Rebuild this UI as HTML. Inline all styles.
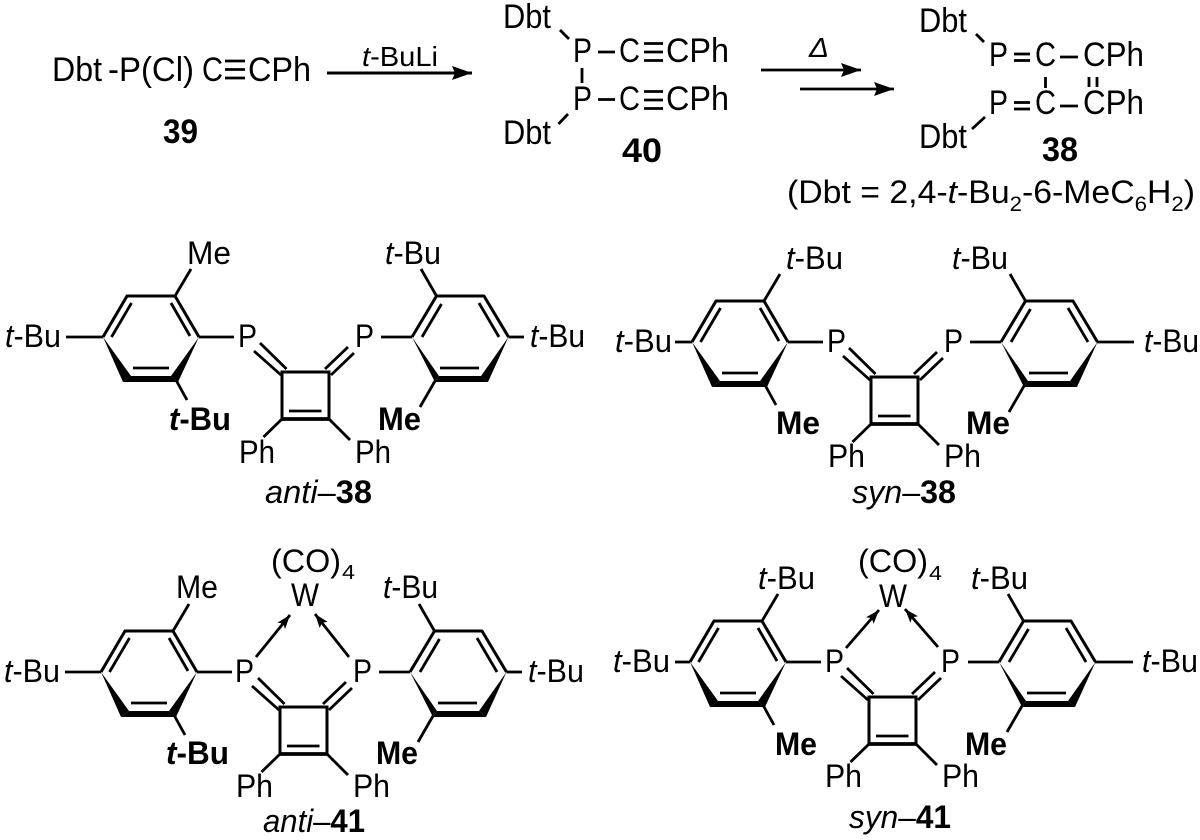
<!DOCTYPE html>
<html><head><meta charset="utf-8"><style>
html,body{margin:0;padding:0;background:#fff;width:1200px;height:840px;overflow:hidden}
svg{display:block}
text{font-family:"Liberation Sans",sans-serif;font-size:32px;fill:#000}
.b{font-weight:bold}
.i{font-style:italic}
line{stroke:#000;stroke-width:2.8;fill:none}
</style></head><body>
<svg width="1200" height="840" viewBox="0 0 1200 840" xmlns="http://www.w3.org/2000/svg">
<defs>
<marker id="big" markerUnits="userSpaceOnUse" markerWidth="24" markerHeight="16" refX="20" refY="7" orient="auto"><path d="M0,0L20,7L0,14L3,7z" fill="#000"/></marker>
<marker id="sm" markerUnits="userSpaceOnUse" markerWidth="16" markerHeight="12" refX="14" refY="5" orient="auto"><path d="M0,0L14,5L0,10L3,5z" fill="#000"/></marker>
<g id="core">
<path d="M103,337L127,296H175L199,337M412,337L436.5,296H484L508.5,337" fill="none" stroke="#000" stroke-width="3" stroke-linejoin="round"/>
<line x1="111.5" y1="337" x2="131.5" y2="303"/><line x1="171" y1="303" x2="190" y2="336"/>
<line x1="133" y1="368" x2="169" y2="368"/>
<line x1="422" y1="337" x2="441.5" y2="304"/><line x1="479" y1="303" x2="499" y2="337"/>
<line x1="440" y1="368" x2="479" y2="368"/>
<polygon points="103,337 123,382 131,376"/><polygon points="199,337 171,376 178,382"/><polygon points="123,382 131,376 171,376 178,382"/>
<polygon points="412,337 435,382 439,376"/><polygon points="508.5,337 481,376 488,382"/><polygon points="435,382 439,376 481,376 488,382"/>
<line x1="175" y1="296" x2="191" y2="269"/><line x1="176" y1="380" x2="187" y2="400"/>
<line x1="436.5" y1="296" x2="421" y2="269"/><line x1="435" y1="381" x2="420" y2="407"/>
<line x1="199" y1="337" x2="234" y2="337"/><line x1="381" y1="337" x2="412" y2="337"/>
<line x1="260" y1="343" x2="286.5" y2="369"/><line x1="254" y1="351" x2="281" y2="375"/>
<line x1="348" y1="347" x2="325" y2="369"/><line x1="354" y1="353" x2="331" y2="375"/>
<path d="M282,419V372H329V419" fill="none" stroke="#000" stroke-width="3"/>
<line x1="280.5" y1="419" x2="330.5" y2="419" style="stroke-width:3.8"/>
<line x1="289" y1="411" x2="321.5" y2="411"/>
<line x1="282" y1="419" x2="263.5" y2="437"/><line x1="329" y1="419" x2="350" y2="440"/>
</g>
</defs>

<!-- top scheme: 39 -->
<text x="52" y="81" style="font-size:34px" textLength="50" lengthAdjust="spacingAndGlyphs">Dbt</text>
<text x="108" y="81" style="font-size:34px" textLength="86" lengthAdjust="spacingAndGlyphs">-P(Cl)</text>
<text x="202" y="81" style="font-size:34px" textLength="21" lengthAdjust="spacingAndGlyphs">C</text>
<line x1="225" y1="61" x2="245" y2="61"/><line x1="225" y1="69.5" x2="245" y2="69.5"/><line x1="225" y1="78" x2="245" y2="78"/>
<text x="248" y="81" style="font-size:34px" textLength="63" lengthAdjust="spacingAndGlyphs">CPh</text>
<text x="163" y="143" class="b" style="font-size:34px" textLength="35" lengthAdjust="spacingAndGlyphs">39</text>
<line x1="327" y1="73" x2="472" y2="73" marker-end="url(#big)" style="stroke-width:3"/>
<text x="362" y="66" style="font-size:28px" textLength="76" lengthAdjust="spacingAndGlyphs"><tspan class="i">t</tspan>-BuLi</text>

<!-- 40 -->
<text x="503" y="28" style="font-size:34px" textLength="48" lengthAdjust="spacingAndGlyphs">Dbt</text>
<line x1="560" y1="30" x2="569" y2="39"/>
<text x="573" y="62" style="font-size:34px" textLength="19" lengthAdjust="spacingAndGlyphs">P</text>
<line x1="598" y1="52" x2="615" y2="52"/>
<text x="619" y="62" style="font-size:34px" textLength="21" lengthAdjust="spacingAndGlyphs">C</text>
<line x1="644" y1="43.5" x2="663" y2="43.5"/><line x1="644" y1="52" x2="663" y2="52"/><line x1="644" y1="60.5" x2="663" y2="60.5"/>
<text x="666" y="62" style="font-size:34px" textLength="63" lengthAdjust="spacingAndGlyphs">CPh</text>
<line x1="582" y1="68" x2="582" y2="83"/>
<text x="573" y="110" style="font-size:34px" textLength="19" lengthAdjust="spacingAndGlyphs">P</text>
<line x1="598" y1="99.5" x2="615" y2="99.5"/>
<text x="619" y="110" style="font-size:34px" textLength="21" lengthAdjust="spacingAndGlyphs">C</text>
<line x1="644" y1="91.5" x2="663" y2="91.5"/><line x1="644" y1="100" x2="663" y2="100"/><line x1="644" y1="108.5" x2="663" y2="108.5"/>
<text x="666" y="110" style="font-size:34px" textLength="63" lengthAdjust="spacingAndGlyphs">CPh</text>
<line x1="568" y1="114" x2="558.5" y2="124"/>
<text x="503" y="144" style="font-size:34px" textLength="48" lengthAdjust="spacingAndGlyphs">Dbt</text>
<text x="622" y="162" class="b" style="font-size:34px" textLength="40" lengthAdjust="spacingAndGlyphs">40</text>

<!-- delta arrows -->
<line x1="761" y1="70" x2="861" y2="70" marker-end="url(#big)" style="stroke-width:2.8"/>
<line x1="800" y1="89" x2="894" y2="89" marker-end="url(#big)" style="stroke-width:2.8"/>
<text x="809" y="57" class="i" style="font-size:28px" textLength="20" lengthAdjust="spacingAndGlyphs">Δ</text>

<!-- 38 top -->
<text x="919" y="32" style="font-size:34px" textLength="48" lengthAdjust="spacingAndGlyphs">Dbt</text>
<line x1="976" y1="34" x2="984" y2="42"/>
<text x="989" y="66" style="font-size:34px" textLength="19" lengthAdjust="spacingAndGlyphs">P</text>
<line x1="1014" y1="54" x2="1030" y2="54"/><line x1="1014" y1="60.5" x2="1030" y2="60.5"/>
<text x="1035" y="66" style="font-size:34px" textLength="21" lengthAdjust="spacingAndGlyphs">C</text>
<line x1="1060" y1="57" x2="1078" y2="57"/>
<text x="1083" y="66" style="font-size:34px" textLength="61" lengthAdjust="spacingAndGlyphs">CPh</text>
<line x1="1045.5" y1="77" x2="1045.5" y2="88"/>
<line x1="1089" y1="77" x2="1089" y2="87"/><line x1="1097" y1="77" x2="1097" y2="87"/>
<text x="989" y="114" style="font-size:34px" textLength="19" lengthAdjust="spacingAndGlyphs">P</text>
<line x1="1014" y1="102.5" x2="1030" y2="102.5"/><line x1="1014" y1="109" x2="1030" y2="109"/>
<text x="1035" y="114" style="font-size:34px" textLength="21" lengthAdjust="spacingAndGlyphs">C</text>
<line x1="1060" y1="106" x2="1078" y2="106"/>
<text x="1083" y="114" style="font-size:34px" textLength="61" lengthAdjust="spacingAndGlyphs">CPh</text>
<line x1="972" y1="129" x2="985" y2="117"/>
<text x="919" y="148" style="font-size:34px" textLength="48" lengthAdjust="spacingAndGlyphs">Dbt</text>
<text x="1042" y="161" class="b" style="font-size:34px" textLength="36" lengthAdjust="spacingAndGlyphs">38</text>
<text x="787" y="203" style="font-size:32px" textLength="408" lengthAdjust="spacingAndGlyphs">(Dbt = 2,4-<tspan class="i">t</tspan>-Bu<tspan dy="8" style="font-size:21px">2</tspan><tspan dy="-8">-6-MeC</tspan><tspan dy="8" style="font-size:21px">6</tspan><tspan dy="-8">H</tspan><tspan dy="8" style="font-size:21px">2</tspan><tspan dy="-8">)</tspan></text>

<!-- anti-38 -->
<use href="#core"/>
<line x1="66" y1="337" x2="103" y2="337"/><line x1="508.5" y1="337" x2="524" y2="337"/>
<text x="187" y="264" textLength="44" lengthAdjust="spacingAndGlyphs">Me</text>
<text x="5" y="347" textLength="56" lengthAdjust="spacingAndGlyphs"><tspan class="i">t</tspan>-Bu</text>
<text x="238" y="347" textLength="19" lengthAdjust="spacingAndGlyphs">P</text>
<text x="355" y="347" textLength="19" lengthAdjust="spacingAndGlyphs">P</text>
<text x="385" y="264" textLength="56" lengthAdjust="spacingAndGlyphs"><tspan class="i">t</tspan>-Bu</text>
<text x="530" y="347" textLength="55" lengthAdjust="spacingAndGlyphs"><tspan class="i">t</tspan>-Bu</text>
<text x="169" y="430" class="b" textLength="62" lengthAdjust="spacingAndGlyphs"><tspan class="i">t</tspan>-Bu</text>
<text x="378" y="430" class="b" textLength="43" lengthAdjust="spacingAndGlyphs">Me</text>
<text x="239" y="463" textLength="36" lengthAdjust="spacingAndGlyphs">Ph</text>
<text x="355" y="463" textLength="36" lengthAdjust="spacingAndGlyphs">Ph</text>
<text x="265" y="503" textLength="107" lengthAdjust="spacingAndGlyphs"><tspan class="i">anti</tspan>–<tspan class="b">38</tspan></text>

<!-- syn-38 -->
<use href="#core" transform="translate(589,5)"/>
<line x1="675" y1="342" x2="692" y2="342"/><line x1="1097" y1="342" x2="1134" y2="342"/>
<text x="786" y="269" textLength="57" lengthAdjust="spacingAndGlyphs"><tspan class="i">t</tspan>-Bu</text>
<text x="952" y="269" textLength="56" lengthAdjust="spacingAndGlyphs"><tspan class="i">t</tspan>-Bu</text>
<text x="615" y="352" textLength="57" lengthAdjust="spacingAndGlyphs"><tspan class="i">t</tspan>-Bu</text>
<text x="827" y="352" textLength="19" lengthAdjust="spacingAndGlyphs">P</text>
<text x="944" y="352" textLength="19" lengthAdjust="spacingAndGlyphs">P</text>
<text x="1144" y="352" textLength="55" lengthAdjust="spacingAndGlyphs"><tspan class="i">t</tspan>-Bu</text>
<text x="776" y="434" class="b" textLength="44" lengthAdjust="spacingAndGlyphs">Me</text>
<text x="966" y="434" class="b" textLength="44" lengthAdjust="spacingAndGlyphs">Me</text>
<text x="828" y="467" textLength="37" lengthAdjust="spacingAndGlyphs">Ph</text>
<text x="944" y="467" textLength="37" lengthAdjust="spacingAndGlyphs">Ph</text>
<text x="852" y="503" textLength="104" lengthAdjust="spacingAndGlyphs"><tspan class="i">syn</tspan>–<tspan class="b">38</tspan></text>

<!-- anti-41 -->
<use href="#core" transform="translate(-2,335)"/>
<line x1="65" y1="672" x2="101" y2="672"/><line x1="506.5" y1="672" x2="522" y2="672"/>
<line x1="256" y1="657" x2="290" y2="615" marker-end="url(#sm)"/>
<line x1="349" y1="657" x2="315" y2="614" marker-end="url(#sm)"/>
<text x="271" y="572" textLength="70" lengthAdjust="spacingAndGlyphs">(CO)</text>
<text x="342" y="579" style="font-size:20px" textLength="13" lengthAdjust="spacingAndGlyphs">4</text>
<text x="291" y="606" textLength="28" lengthAdjust="spacingAndGlyphs">W</text>
<text x="176" y="598" textLength="42" lengthAdjust="spacingAndGlyphs">Me</text>
<text x="383" y="598" textLength="55" lengthAdjust="spacingAndGlyphs"><tspan class="i">t</tspan>-Bu</text>
<text x="4" y="682" textLength="56" lengthAdjust="spacingAndGlyphs"><tspan class="i">t</tspan>-Bu</text>
<text x="235" y="682" textLength="19" lengthAdjust="spacingAndGlyphs">P</text>
<text x="353" y="682" textLength="19" lengthAdjust="spacingAndGlyphs">P</text>
<text x="528" y="682" textLength="56" lengthAdjust="spacingAndGlyphs"><tspan class="i">t</tspan>-Bu</text>
<text x="166" y="764" class="b" textLength="63" lengthAdjust="spacingAndGlyphs"><tspan class="i">t</tspan>-Bu</text>
<text x="376" y="764" class="b" textLength="42" lengthAdjust="spacingAndGlyphs">Me</text>
<text x="236" y="797" textLength="37" lengthAdjust="spacingAndGlyphs">Ph</text>
<text x="353" y="797" textLength="37" lengthAdjust="spacingAndGlyphs">Ph</text>
<text x="263" y="832" textLength="102" lengthAdjust="spacingAndGlyphs"><tspan class="i">anti</tspan>–<tspan class="b">41</tspan></text>

<!-- syn-41 -->
<use href="#core" transform="translate(587,325)"/>
<line x1="675" y1="662" x2="690" y2="662"/><line x1="1095" y1="662" x2="1133" y2="662"/>
<line x1="846" y1="648" x2="879" y2="610" marker-end="url(#sm)"/>
<line x1="938" y1="647" x2="905" y2="609" marker-end="url(#sm)"/>
<text x="858" y="572" textLength="70" lengthAdjust="spacingAndGlyphs">(CO)</text>
<text x="929" y="580" style="font-size:20px" textLength="13" lengthAdjust="spacingAndGlyphs">4</text>
<text x="879" y="607" textLength="28" lengthAdjust="spacingAndGlyphs">W</text>
<text x="758" y="589" textLength="57" lengthAdjust="spacingAndGlyphs"><tspan class="i">t</tspan>-Bu</text>
<text x="971" y="589" textLength="57" lengthAdjust="spacingAndGlyphs"><tspan class="i">t</tspan>-Bu</text>
<text x="613" y="672" textLength="57" lengthAdjust="spacingAndGlyphs"><tspan class="i">t</tspan>-Bu</text>
<text x="825" y="672" textLength="19" lengthAdjust="spacingAndGlyphs">P</text>
<text x="941" y="672" textLength="19" lengthAdjust="spacingAndGlyphs">P</text>
<text x="1142" y="672" textLength="56" lengthAdjust="spacingAndGlyphs"><tspan class="i">t</tspan>-Bu</text>
<text x="775" y="755" class="b" textLength="42" lengthAdjust="spacingAndGlyphs">Me</text>
<text x="965" y="755" class="b" textLength="42" lengthAdjust="spacingAndGlyphs">Me</text>
<text x="825" y="787" textLength="37" lengthAdjust="spacingAndGlyphs">Ph</text>
<text x="942" y="787" textLength="37" lengthAdjust="spacingAndGlyphs">Ph</text>
<text x="849" y="828" textLength="102" lengthAdjust="spacingAndGlyphs"><tspan class="i">syn</tspan>–<tspan class="b">41</tspan></text>
</svg>
</body></html>
